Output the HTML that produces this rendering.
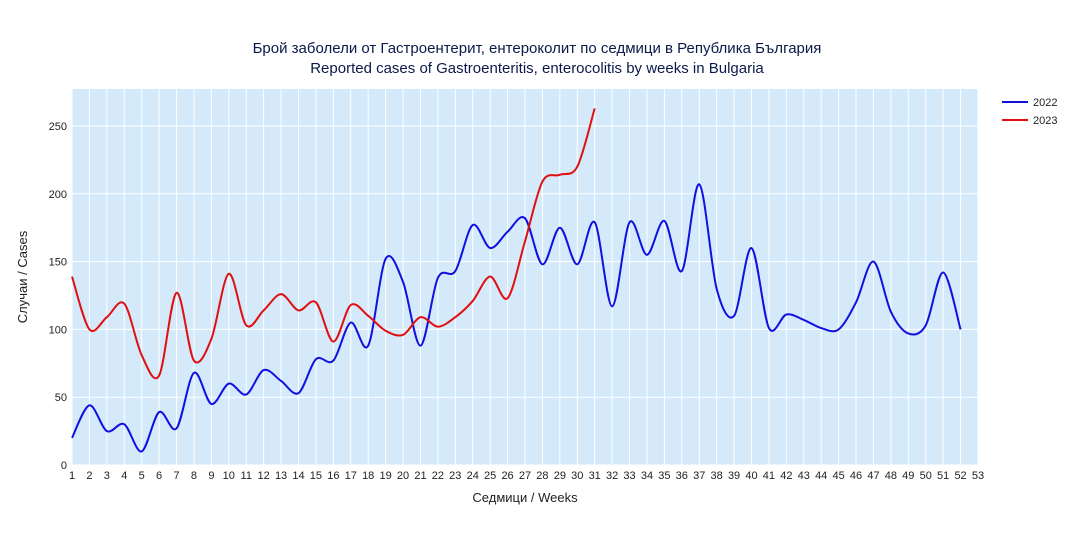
<!DOCTYPE html>
<html><head><meta charset="utf-8"><style>
body{margin:0;background:#fff;font-family:"Liberation Sans","DejaVu Sans",sans-serif}
</style></head><body>
<svg id="chart" width="1075" height="537" xmlns="http://www.w3.org/2000/svg" font-family="'Liberation Sans','DejaVu Sans',sans-serif">
<rect width="1075" height="537" fill="#fff"/>
<text x="537" y="53" text-anchor="middle" font-size="15" fill="#0a1a4a">Брой заболели от Гастроентерит, ентероколит по седмици в Република България</text>
<text x="537" y="73" text-anchor="middle" font-size="15" fill="#0a1a4a">Reported cases of Gastroenteritis, enterocolitis by weeks in Bulgaria</text>
<g id="plot"></g>
<text x="525" y="502" text-anchor="middle" font-size="13" fill="#222">Седмици / Weeks</text>
<text transform="translate(27,277) rotate(-90)" text-anchor="middle" font-size="13" fill="#222">Случаи / Cases</text>
<g>
<g><line x1="1002" y1="102" x2="1028" y2="102" stroke="#1010e0" stroke-width="2"/><text x="1033" y="106" font-size="11" fill="#222">2022</text></g>
<g><line x1="1002" y1="120" x2="1028" y2="120" stroke="#e01010" stroke-width="2"/><text x="1033" y="124" font-size="11" fill="#222">2023</text></g>
</g>
</svg>
<script>
const weeks = Array.from({length:53},(_,i)=>i+1);
const yTicks = [0,50,100,150,200,250];
const cases2022 = [20,44,25,30,10,39,27,68,45,60,52,70,62,53,78,77,105,88,152,135,88,138,143,177,160,172,182,148,175,148,179,117,179,155,180,143,207,130,110,160,101,111,107,101,100,120,150,113,97,103,142,100];
const cases2023 = [139,100,109,119,81,66,127,77,93,141,103,114,126,114,120,91,118,110,99,96,109,102,109,121,139,123,165,209,214,220,263];
const L=72,R=978,T=89,B=465;
const x=w=>L+(w-1)*(R-L)/52;
const y=v=>B-v*(B-126)/250;
const NS='http://www.w3.org/2000/svg';
const g=document.getElementById('plot');
function mk(t,a){const e=document.createElementNS(NS,t);for(const k in a)e.setAttribute(k,a[k]);g.appendChild(e);return e;}
const bg=mk('rect',{x:L,y:T,width:R-L,height:B-T,fill:'#d4e9fa'});


weeks.forEach(w=>{
 const l=mk('line',{x1:x(w),x2:x(w),y1:T,y2:B,stroke:'#fff','stroke-width':1});
 
 
 const t=mk('text',{x:x(w),y:479,'text-anchor':'middle','font-size':11,fill:'#222'});
 t.textContent=w;
 
 
});
yTicks.forEach(v=>{
 const l=mk('line',{x1:L,x2:R,y1:y(v),y2:y(v),stroke:'#fff','stroke-width':1});
 
 
 const t=mk('text',{x:L-5,y:y(v)+4,'text-anchor':'end','font-size':11,fill:'#222'});
 t.textContent=v;
 
 
});
function spline(vals){
 const p=vals.map((v,i)=>[x(i+1),y(v)]);
 let d='M'+p[0][0]+','+p[0][1];
 const k=0.16;
 for(let i=0;i<p.length-1;i++){
  const p0=p[Math.max(0,i-1)],p1=p[i],p2=p[i+1],p3=p[Math.min(p.length-1,i+2)];
  const c1=[p1[0]+(p2[0]-p0[0])*k,p1[1]+(p2[1]-p0[1])*k];
  const c2=[p2[0]-(p3[0]-p1[0])*k,p2[1]-(p3[1]-p1[1])*k];
  d+=`C${c1[0]},${c1[1]} ${c2[0]},${c2[1]} ${p2[0]},${p2[1]}`;
 }
 return d;
}
const s1=mk('path',{d:spline(cases2022),fill:'none',stroke:'#1010e0','stroke-width':2});


const s2=mk('path',{d:spline(cases2023),fill:'none',stroke:'#e01010','stroke-width':2});


</script>
</body></html>
